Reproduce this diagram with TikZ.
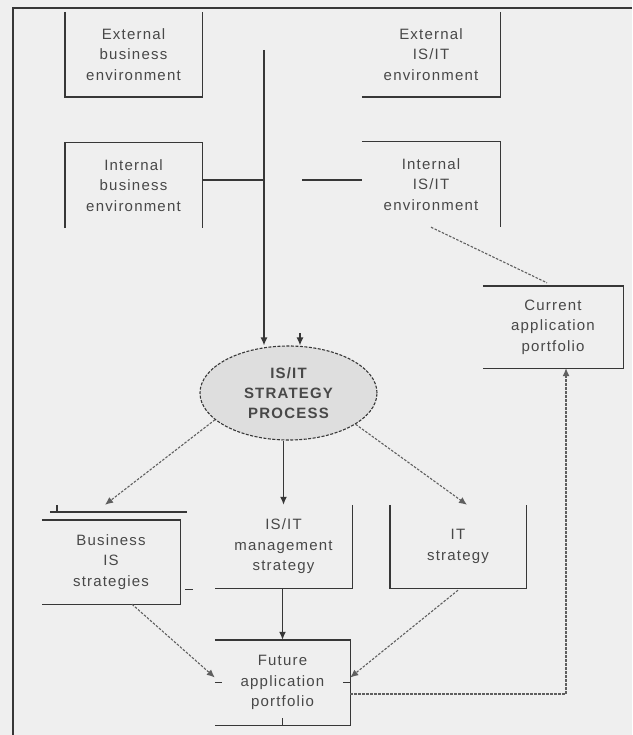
\documentclass[tikz,border=0pt]{standalone}
\usepackage{fontspec}
\setmainfont[LetterSpace=8]{Liberation Sans}
\usetikzlibrary{arrows.meta,shapes.geometric,calc}
\definecolor{bg}{RGB}{239,239,239}
\definecolor{ln}{RGB}{55,55,55}
\definecolor{tx}{RGB}{72,72,72}
\definecolor{dl}{RGB}{95,95,95}
\definecolor{ellfill}{RGB}{222,222,222}
\tikzset{
  box/.style={inner sep=0pt, align=center, text=tx, font=\fontsize{15}{20.5}\selectfont},
  edge/.style={draw=ln, line width=1.4pt},
  frame/.style={draw=ln, line width=2pt},
  arr/.style={draw=ln, line width=1.3pt, -{Latex[length=8pt,width=7pt]}},
  darr/.style={draw=dl, line width=1.1pt, dash pattern=on 2.5pt off 1.5pt, -{Latex[length=8pt,width=7pt]}},
  dline/.style={draw=dl, line width=1.1pt, dash pattern=on 2.5pt off 1.5pt},
  proc/.style={ellipse, draw=ln, line width=1.1pt, dash pattern=on 3pt off 1.5pt, fill=ellfill,
     inner sep=0pt, align=center, text=tx, font=\fontsize{15}{20}\selectfont\bfseries}
}
\begin{document}
\begin{tikzpicture}[x=1pt,y=-1pt]
\fill[bg] (0,0) rectangle (632,735);
\useasboundingbox (0,0) rectangle (632,735);
% outer frame
\draw[frame] (13,735) -- (13,8) -- (632,8);

% nodes
\node[box, minimum width=137pt, minimum height=85pt] (extbus) at (133.5,54.5) {External\\business\\environment};
\node[box, minimum width=138pt, minimum height=85pt] (extisit) at (431,54.5) {External\\IS/IT\\environment};
\node[box, minimum width=137pt, minimum height=85pt] (intbus) at (133.5,185.5) {Internal\\business\\environment};
\node[box, minimum width=138pt, minimum height=85pt] (intisit) at (431,184.5) {Internal\\IS/IT\\environment};
\node[box, minimum width=140pt, minimum height=82pt] (curr) at (553,327) {Current\\application\\portfolio};
\node[proc, minimum width=177pt, minimum height=94pt] (proc) at (288.5,393) {IS/IT\\STRATEGY\\PROCESS};
\node[box, minimum width=138pt, minimum height=84pt] (bis) at (111,562) {Business\\IS\\strategies};
\node[box, minimum width=137pt, minimum height=83pt] (mgmt) at (283.5,546.5) {IS/IT\\management\\strategy};
\node[box, minimum width=136pt, minimum height=83pt] (itstr) at (458,546.5) {IT\\strategy};
\node[box, minimum width=135pt, minimum height=85pt] (fut) at (282.5,682.5) {Future\\application\\portfolio};

% partial box edges (as printed)
\draw[edge] (extbus.north west) -- (extbus.south west) -- (extbus.south east) -- (extbus.north east);
\draw[edge] (extisit.south west) -- (extisit.south east) -- (extisit.north east);
\draw[edge] (intbus.south west) -- (intbus.north west) -- (intbus.north east) -- (intbus.south east);
\draw[edge] (intisit.north west) -- (intisit.north east) -- (intisit.south east);
\draw[edge] (curr.north west) -- (curr.north east) -- (curr.south east) -- (curr.south west);
\draw[edge] (bis.north west) -- (bis.north east) -- (bis.south east) -- (bis.south west);
\draw[edge] ([xshift=8pt,yshift=8pt]bis.north west) -- ([xshift=7pt,yshift=8pt]bis.north east);
\draw[edge] ([xshift=15pt,yshift=8pt]bis.north west) -- ([xshift=15pt,yshift=15pt]bis.north west);
\draw[edge] ([xshift=5pt,yshift=15pt]bis.south east) -- ([xshift=13pt,yshift=15pt]bis.south east);
\draw[edge] (mgmt.north east) -- (mgmt.south east) -- (mgmt.south west);
\draw[edge] (itstr.north west) -- (itstr.south west) -- (itstr.south east) -- (itstr.north east);
\draw[edge] (fut.north west) -- (fut.north east) -- (fut.south east) -- (fut.south west);
\draw[edge] (fut.south) -- ([yshift=7pt]fut.south);
\draw[edge] (fut.west) -- ([xshift=7pt]fut.west);
\draw[edge] (fut.east) -- ([xshift=-7pt]fut.east);

% connectors into the process
\coordinate (vtop) at (264,50);
\coordinate (jl) at (264,180);
\coordinate (jr) at (302,180);
\coordinate (stub) at (300,333);
\draw[edge] (vtop) -- (jl);
\draw[arr] (jl) -- (vtop |- proc.north);
\draw[edge] (intbus.east |- jl) -- (jl);
\draw[edge] (jr) -- (intisit.west |- jr);
\draw[arr] (stub) -- (stub |- proc.north);

% current portfolio link
\draw[dline] (intisit.south) -- ([xshift=-6pt,yshift=3pt]curr.north);

% process outputs
\draw[darr] (proc.200) -- ([xshift=-6pt,yshift=15pt]bis.north);
\draw[arr] (mgmt.north |- proc.south) -- (mgmt.north);
\draw[darr] (proc.-25) -- ([xshift=9pt]itstr.north);

% into future portfolio
\draw[arr] (fut.north |- mgmt.south) -- (fut.north);
\draw[darr] ([xshift=21pt]bis.south) -- ([yshift=5pt]fut.west);
\draw[darr] ([yshift=-2pt]itstr.south) -- ([yshift=5pt]fut.east);
\draw[darr] ([yshift=-11.5pt]fut.east) -| ([xshift=13pt]curr.south);
\end{tikzpicture}
\end{document}
